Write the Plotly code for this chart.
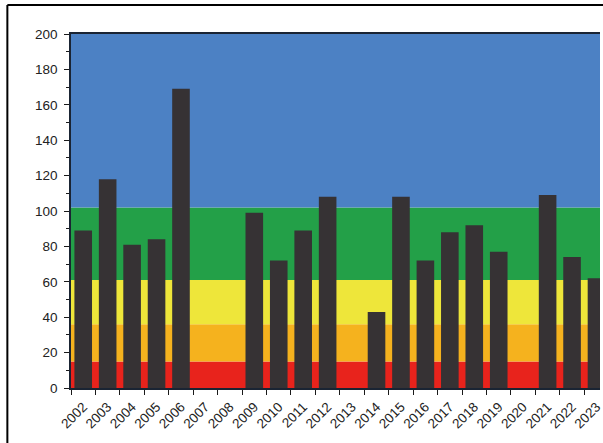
import plotly.graph_objects as go

years = [str(y) for y in range(2002, 2024)]
values = [89, 118, 81, 84, 169, None, None, 99, 72, 89, 108, None,
          43, 108, 72, 88, 92, 77, None, 109, 74, 62]

# background bands (lower, upper, colour)
band_low = [0, 15, 36, 61, 102]
band_high = [15, 36, 61, 102, 200]
band_colors = ["#e8231c", "#f5b21e", "#eee63a", "#23a048", "#4c81c4"]

y_ticks = [0, 20, 40, 60, 80, 100, 120, 140, 160, 180, 200]

W, H = 603, 443
ML, MR, MT, MB = 71, 0, 34, 55
plot_w = W - ML - MR
plot_h = H - MT - MB
cat_px = 24.58

fig = go.Figure()
fig.add_trace(go.Bar(
    x=years, y=values,
    marker=dict(color="#363234", line=dict(width=0)),
    width=0.72,
))

shapes = []
for lo, hi, c in zip(band_low, band_high, band_colors):
    shapes.append(dict(type="rect", xref="paper", yref="y", x0=0, x1=1,
                       y0=lo, y1=hi, fillcolor=c, line=dict(width=0),
                       layer="below"))
# outer frame (left and top edges)
px = lambda p: (p - ML) / plot_w
py = lambda p: (H - MB - p) / plot_h
shapes.append(dict(type="line", xref="paper", yref="paper",
                   x0=px(7), x1=px(W + 5), y0=py(5), y1=py(5),
                   line=dict(color="black", width=2)))
shapes.append(dict(type="line", xref="paper", yref="paper",
                   x0=px(7), x1=px(7), y0=py(5), y1=py(H + 5),
                   line=dict(color="black", width=2)))

fig.update_layout(
    width=W, height=H,
    margin=dict(l=ML, r=MR, t=MT, b=MB),
    paper_bgcolor="white", plot_bgcolor="white",
    showlegend=False,
    shapes=shapes,
    font=dict(family="Liberation Sans, Arial, sans-serif", size=13, color="#222222"),
    xaxis=dict(
        type="category",
        range=[-0.5, -0.5 + plot_w / cat_px],
        tickangle=-45,
        ticks="outside", ticklen=5, tickcolor="#1a1a1a",
        tickson="boundaries",
        ticklabelstandoff=4,
        showline=True, linecolor="#1a2433", linewidth=1.5, mirror=True,
        showgrid=False, zeroline=False,
        tickfont=dict(size=13.5),
    ),
    yaxis=dict(
        range=[0, 200],
        tickvals=y_ticks,
        ticks="outside", ticklen=5, tickcolor="#1a1a1a",
        ticklabelstandoff=4,
        minor=dict(dtick=10, ticks="outside", ticklen=3, tickcolor="#1a1a1a"),
        showline=True, linecolor="#1a2433", linewidth=1.5,
        showgrid=False, zeroline=False,
        tickfont=dict(size=13.5),
    ),
)

fig.write_html("out.html",
               config={"displayModeBar": False},
               post_script="document.body.style.margin='0';document.body.style.overflow='hidden';")
